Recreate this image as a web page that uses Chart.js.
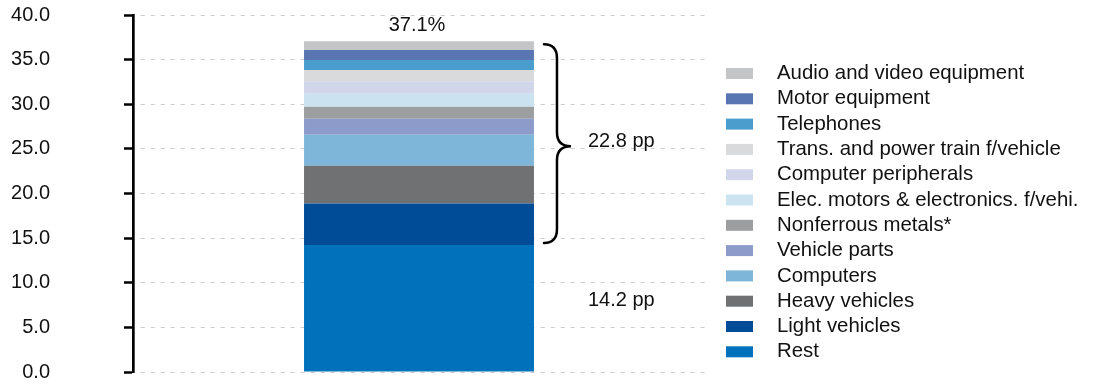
<!DOCTYPE html>
<html>
<head>
<meta charset="utf-8">
<script src="https://cdn.jsdelivr.net/npm/chart.js@4"></script>
<style>
  html, body { margin: 0; padding: 0; background: #fff; }
  #wrap { width: 1098px; height: 385px; position: relative; }
</style>
</head>
<body>
<div id="wrap"><canvas id="myChart" width="1098" height="385"></canvas></div>
<script>
// stacked from the bottom up
var categories = [
    'Rest', 'Light vehicles', 'Heavy vehicles', 'Computers', 'Vehicle parts',
    'Nonferrous metals*', 'Elec. motors & electronics. f/vehi.', 'Computer peripherals',
    'Trans. and power train f/vehicle', 'Telephones', 'Motor equipment', 'Audio and video equipment'
];
var shares = [14.23, 4.65, 4.22, 3.47, 1.80, 1.34, 1.46, 1.42, 1.26, 1.12, 1.10, 1.00];
var colors = [
    '#0071BA', '#004C97', '#707173', '#7EB6DA', '#8C9BC9', '#9D9EA0',
    '#CBE3F0', '#D1D6EA', '#D9DADB', '#4A9DCD', '#5A76B2', '#C4C5C6'
];
var yTicks = [0, 5, 10, 15, 20, 25, 30, 35, 40];

var total = shares.reduce(function(a, b) { return a + b; }, 0);
var rest = shares[0];
var others = total - rest;

var family = '"Liberation Sans", Arial, sans-serif';

var datasets = categories.map(function(name, i) {
    return {
        label: name,
        data: [shares[i]],
        backgroundColor: colors[i],
        borderWidth: 0,
        barPercentage: 0.402,
        categoryPercentage: 1
    };
});

// brace, value labels and the legend column
var extras = {
    id: 'extras',
    afterDraw: function(chart) {
        var ctx = chart.ctx;
        var y = chart.scales.y;
        var bar = chart.getDatasetMeta(0).data[0];
        var barRight = bar.x + bar.width / 2;

        var yTop = y.getPixelForValue(total) + 3;
        var yBot = y.getPixelForValue(rest) - 2;
        var yMid = y.getPixelForValue(25.3);
        var x0 = barRight + 10, x1 = barRight + 23, x2 = barRight + 37, r = 14;

        ctx.save();
        ctx.strokeStyle = '#000';
        ctx.lineWidth = 2.5;
        ctx.lineCap = 'round';
        ctx.beginPath();
        ctx.moveTo(x0, yTop);
        ctx.quadraticCurveTo(x1, yTop, x1, yTop + r);
        ctx.lineTo(x1, yMid - r);
        ctx.quadraticCurveTo(x1, yMid, x2, yMid);
        ctx.quadraticCurveTo(x1, yMid, x1, yMid + r);
        ctx.lineTo(x1, yBot - r);
        ctx.quadraticCurveTo(x1, yBot, x0, yBot);
        ctx.stroke();

        ctx.fillStyle = '#111';
        ctx.font = '20px ' + family;
        ctx.textBaseline = 'middle';
        ctx.textAlign = 'center';
        ctx.fillText(total.toFixed(1) + '%', bar.x - 2, y.getPixelForValue(total) - 16);
        ctx.textAlign = 'left';
        ctx.fillText(others.toFixed(1) + ' pp', barRight + 54, yMid - 5);
        ctx.fillText(rest.toFixed(1) + ' pp', barRight + 54, y.getPixelForValue(rest / 2) - 8);

        // legend, top entry = top of the stack
        ctx.font = '20.4px ' + family;
        for (var k = 0; k < categories.length; k++) {
            var i = categories.length - 1 - k;
            var cy = 73.5 + k * 25.3;
            ctx.fillStyle = colors[i];
            ctx.fillRect(726, cy - 5.5, 27, 11);
            ctx.fillStyle = '#111';
            ctx.fillText(categories[i], 777, cy);
        }
        ctx.restore();
    }
};

var ctx = document.getElementById('myChart').getContext('2d');
var myChart = new Chart(ctx, {
    type: 'bar',
    data: {
        labels: [''],
        datasets: datasets
    },
    options: {
        responsive: false,
        animation: false,
        layout: { padding: { left: 0, right: 393, top: 15, bottom: 13 } },
        plugins: {
            legend: { display: false },
            tooltip: { enabled: false }
        },
        scales: {
            x: { stacked: true, display: false },
            y: {
                stacked: true,
                min: 0,
                max: 40,
                afterFit: function(scale) {
                    scale.width = 133;
                    scale.paddingTop = 0;
                    scale.paddingBottom = 0;
                },
                afterBuildTicks: function(scale) {
                    scale.ticks = yTicks.map(function(v) { return { value: v }; });
                },
                ticks: {
                    padding: 74,
                    color: '#111',
                    font: { family: family, size: 20 },
                    callback: function(v) { return v.toFixed(1); }
                },
                grid: {
                    color: '#CCCCCC',
                    lineWidth: 1,
                    tickColor: '#000',
                    tickWidth: 2.5,
                    tickLength: 9
                },
                border: { color: '#000', width: 2.7, dash: [4, 6], dashOffset: -6 }
            }
        }
    },
    plugins: [extras]
});
</script>
</body>
</html>
